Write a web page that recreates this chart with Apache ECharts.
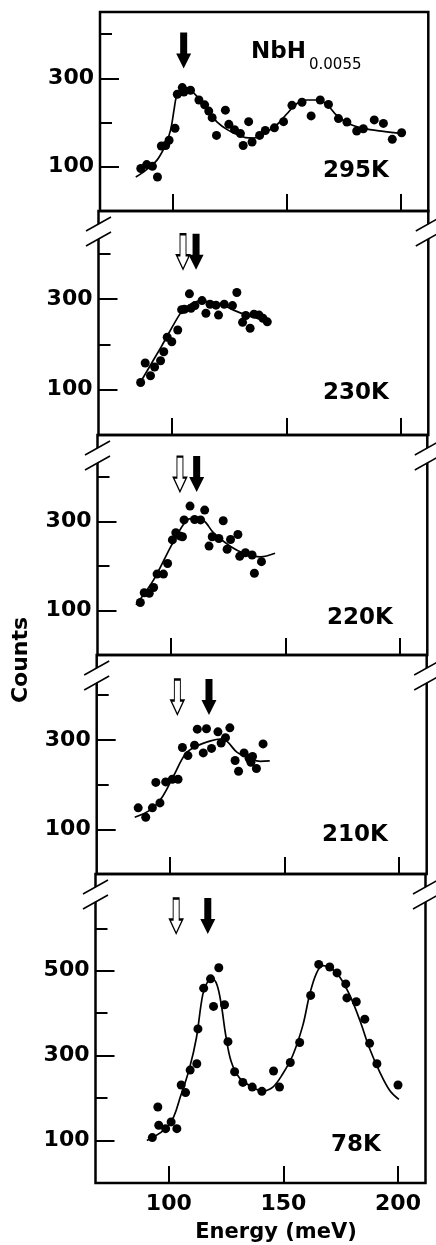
<!DOCTYPE html>
<html><head><meta charset="utf-8">
<script src="https://cdn.jsdelivr.net/npm/echarts@6/dist/echarts.min.js"></script>
<style>html,body{margin:0;padding:0;background:#fff}#c{width:436px;height:1245px}</style>
</head><body><div id="c"></div>
<script>
// ---------------- data ----------------
const temperatures = ['295K', '230K', '220K', '210K', '78K'];
const xRange = [68, 212];
const xTickLabels = [100, 150, 200];
const yMaxes = [450, 495, 495, 490, 728];
const yTickTops = [400, 400, 400, 400, 600];
const yTickLabels = [[100, 300], [100, 300], [100, 300], [100, 300], [100, 300, 500]];

const points295 = [[85.9,96],[88.5,105],[91.0,101],[93.2,77],[94.9,147],[96.8,148],[98.3,160],[100.9,187],[101.9,264],[104.1,279],[104.8,269],[107.7,273],[111.4,251],[113.9,240],[115.7,226],[117.2,211],[119.1,171],[123,228],[124.5,196],[127,184],[129.6,175],[130.8,148],[133.2,202],[134.7,156],[138,171],[140.5,182],[144.5,188],[148.5,202],[152.2,239],[156.6,246],[160.6,215],[164.6,251],[168.2,241],[172.6,209],[176.3,201],[180.6,181],[183.5,186],[188.3,206],[192.3,198],[196.2,162],[200.3,177]];
const curve295 = [[83.7,77],[88,92],[93,115],[96.8,150],[99,184],[100.5,230],[101.5,258],[103.4,274],[105.5,279],[107.7,274],[110.7,258],[115,228],[119.4,201],[123.8,184],[128.2,173],[131.8,166],[135.4,165],[139.8,175],[145.6,195],[150,220],[154.4,243],[158.8,251],[163.1,251],[167.5,241],[171.9,216],[177.7,196],[183.5,187],[192.3,180],[200.3,175]];

const points230 = [[86.4,116],[88.4,159],[90.7,131],[92.5,150],[95.1,164],[96.5,184],[98,216],[100,206],[102.6,232],[104.3,277],[105.5,278],[107.7,312],[108.4,280],[110.1,286],[113.2,297],[114.9,269],[116.7,289],[119.3,287],[120.4,265],[122.9,289],[126.5,286],[128.4,315],[130.9,249],[132.3,264],[134.2,236],[135.9,267],[138.1,265],[139.8,258],[141.7,250]];
const curve230 = [[86.7,120],[95.5,196],[104,271],[107,285],[112,296],[117,294],[122,288],[127,276],[133,264],[138,257],[142,251]];

const points220 = [[86.7,118],[88.4,140],[90.6,139],[92.5,152],[94,182],[96.8,182],[98.6,206],[100.7,259],[102.2,275],[103.9,268],[105.1,266],[105.8,304],[108.4,335],[110.4,305],[113,304],[114.8,326],[116.7,245],[118.1,266],[121,262],[122.9,302],[124.6,238],[126.1,260],[129.3,271],[130.1,222],[132.6,230],[135.5,225],[136.5,184],[139.6,210]];
const curve220 = [[84.8,113],[92.5,169],[100,244],[105.8,296],[108.7,307],[113.8,304],[118.8,274],[126.1,244],[131.9,229],[139.1,221],[145.5,229]];

const points210 = [[86.1,148],[89.4,127],[92.3,148],[95.6,159],[93.8,205],[98.1,206],[101,212],[103.5,212],[105.4,283],[107.8,265],[110.7,288],[111.9,324],[114.5,271],[115.9,325],[118.1,281],[120.9,318],[122.3,293],[124.2,305],[126.1,327],[128.4,254],[129.9,230],[132.3,271],[134.5,259],[136,263],[135.3,250],[137.7,236],[140.6,291]];
const curve210 = [[84.6,127],[91.6,144],[96.7,173],[101.7,221],[106.8,269],[111.9,287],[117.7,298],[122.1,302],[125,296],[129.3,272],[135.1,258],[139.4,252],[143.5,253]];

const points78 = [[92.8,107],[95.2,179],[95.6,136],[98.6,128],[101,144],[103.5,128],[105.4,231],[107.3,213],[109.3,266],[112.2,281],[112.7,363],[115.2,459],[118.2,481],[119.5,416],[121.8,507],[124.3,420],[125.8,333],[128.7,262],[132.3,237],[136.4,226],[140.6,216],[145.7,264],[148.3,226],[153,284],[157.1,331],[161.9,442],[165.4,515],[170.2,509],[173.4,495],[177.2,469],[177.7,436],[181.8,427],[185.5,386],[187.6,329],[190.8,281],[200,231]];
const curve78 = [[90.4,100],[100.3,138],[105.4,209],[109,270],[112,341],[114.8,444],[117,475],[119,481],[121,467],[122.9,420],[124.8,349],[127.2,286],[130.9,247],[136.7,225],[140.8,217],[145.4,226],[149.8,258],[154.1,301],[158.5,372],[161.4,443],[164.4,494],[167.2,512],[170.9,506],[174.5,486],[178.9,443],[183.3,384],[187.6,317],[192,262],[196.4,218],[200.4,197]];

const filledArrows = [[104.7,363],[110.6,405],[111.3,407],[117,396],[117,629]];
const openArrows = [null,[104.9,405],[104,407],[103.2,396],[103.2,629]];

const allPoints = [points295, points230, points220, points210, points78];
const allCurves = [curve295, curve230, curve220, curve210, curve78];

// ---------------- layout ----------------
const lefts = [100, 98.5, 97.5, 96.7, 95.5];
const rights = [428.3, 428.3, 427.3, 426.7, 425.5];
const tops = [12, 211, 435, 655, 874];
const bottoms = [211, 435, 655, 874, 1183];
const FONT = '"DejaVu Sans", "Liberation Sans", sans-serif';

const grid = [], xAxis = [], yAxis = [], series = [], graphic = [];
const FILLED = 'path://M4,0L11,0L11,21L15,21L7.5,36L0,21L4,21Z';
const OPEN = 'path://M3.5,0L9.5,0L9.5,21L13,21L6.5,35L0,21L3.5,21Z';

for (let i = 0; i < 5; i++) {
  const L = lefts[i], R = rights[i], T = tops[i], B = bottoms[i];
  const W = R - L, H = B - T;
  const px = e => L + (e - xRange[0]) / (xRange[1] - xRange[0]) * W;
  const py = v => B - v / yMaxes[i] * H;
  const gData = grid.length;
  grid.push({left: L, top: T, width: W, height: H, show: true, borderColor: '#000', borderWidth: 2.5, backgroundColor: 'transparent'});
  const tl = px(xTickLabels[0]), tr = px(xTickLabels[xTickLabels.length - 1]), tt = py(yTickTops[i]);
  const gTick = grid.length;
  grid.push({left: tl, top: tt, width: tr - tl, height: B - tt, show: false});

  const xd = xAxis.length;
  xAxis.push({type: 'value', gridIndex: gData, position: 'bottom', min: xRange[0], max: xRange[1], show: false});
  xAxis.push({type: 'value', gridIndex: gTick, position: 'bottom', min: xTickLabels[0], max: xTickLabels[xTickLabels.length - 1],
    interval: xTickLabels[1] - xTickLabels[0],
    axisLine: {show: false, onZero: false},
    axisTick: {show: true, inside: true, length: 17, lineStyle: {color: '#000', width: 2}},
    splitLine: {show: false},
    axisLabel: {show: i === 4, margin: 10, color: '#000', fontFamily: FONT, fontWeight: 'bold', fontSize: 22,
      formatter: v => xTickLabels.includes(v) ? String(v) : ''}
  });
  const yd = yAxis.length;
  yAxis.push({type: 'value', gridIndex: gData, position: 'left', min: 0, max: yMaxes[i], show: false});
  yAxis.push({type: 'value', gridIndex: gTick, position: 'left', min: 0, max: yTickTops[i], interval: 200, offset: tl - L,
    axisLine: {show: false, onZero: false},
    axisTick: {show: true, inside: true, length: 12, lineStyle: {color: '#000', width: 2}},
    minorTick: {show: true, splitNumber: 2, length: 19, lineStyle: {color: '#000', width: 2}},
    axisLabel: {show: false}, splitLine: {show: false}, minorSplitLine: {show: false}
  });
  const labs = yTickLabels[i];
  yAxis.push({type: 'value', gridIndex: gTick, position: 'left', min: 0, max: yTickTops[i], interval: 100, offset: tl - L,
    axisLine: {show: false, onZero: false}, axisTick: {show: false}, splitLine: {show: false},
    axisLabel: {show: true, margin: 6, color: '#000', fontFamily: FONT, fontWeight: 'bold', fontSize: 22,
      formatter: v => labs.includes(v) ? String(v) : ''}
  });

  const mp = [{coord: filledArrows[i], symbol: FILLED, symbolSize: [15, 36], itemStyle: {color: '#000', opacity: 1}}];
  if (openArrows[i]) mp.push({coord: openArrows[i], symbol: OPEN, symbolSize: [13, 35], itemStyle: {color: '#fff', borderColor: '#000', borderWidth: 1.5, opacity: 1}});

  series.push({type: 'scatter', xAxisIndex: xd, yAxisIndex: yd, data: allPoints[i], symbol: 'circle', symbolSize: 9,
    itemStyle: {color: '#000', opacity: 1}, silent: true, z: 3,
    markPoint: {data: mp, label: {show: false}, silent: true, animation: false}});
  series.push({type: 'line', xAxisIndex: xd, yAxisIndex: yd, data: allCurves[i], smooth: 0.35, showSymbol: false,
    lineStyle: {color: '#000', width: 1.7}, silent: true, z: 2});

  // temperature label
  const tx = [356, 356, 360, 355, 356][i];
  const ty = [171, 393, 618, 835, 1145][i];
  graphic.push({type: 'text', x: tx, y: ty, z: 100, style: {text: temperatures[i], font: 'bold 23px ' + FONT, fill: '#000',
    align: 'center', verticalAlign: 'middle', textAlign: 'center', textVerticalAlign: 'middle'}});

  // axis break marks
  if (i > 0) {
    const c = T + 20.5;
    [L, R].forEach(x => {
      graphic.push({type: 'polygon', z: 100, shape: {points: [[x - 6, c - 3.7], [x + 6, c - 10.4], [x + 6, c + 3.7], [x - 6, c + 10.4]]}, style: {fill: '#fff'}});
      graphic.push({type: 'line', z: 101, shape: {x1: x - 12.5, y1: c - 0.5, x2: x + 12.5, y2: c - 14.5}, style: {stroke: '#000', lineWidth: 1.5}});
      graphic.push({type: 'line', z: 101, shape: {x1: x - 12.5, y1: c + 14.5, x2: x + 12.5, y2: c + 0.5}, style: {stroke: '#000', lineWidth: 1.5}});
    });
  }
}

graphic.push({type: 'text', x: 251, y: 52, z: 100, style: {text: 'NbH', font: 'bold 23px ' + FONT, fill: '#000', align: 'left', verticalAlign: 'middle', textAlign: 'left', textVerticalAlign: 'middle'}});
graphic.push({type: 'text', x: 309, y: 65, z: 100, style: {text: '0.0055', font: '15px ' + FONT, fill: '#000', align: 'left', verticalAlign: 'middle', textAlign: 'left', textVerticalAlign: 'middle'}});
graphic.push({type: 'text', x: 21, y: 660, rotation: Math.PI / 2, z: 100, style: {text: 'Counts', font: 'bold 22px ' + FONT, fill: '#000', align: 'center', verticalAlign: 'middle', textAlign: 'center', textVerticalAlign: 'middle'}});
graphic.push({type: 'text', x: 276, y: 1233, z: 100, style: {text: 'Energy (meV)', font: 'bold 21px ' + FONT, fill: '#000', align: 'center', verticalAlign: 'middle', textAlign: 'center', textVerticalAlign: 'middle'}});

const chart = echarts.init(document.getElementById('c'), null, {renderer: 'canvas'});
chart.setOption({animation: false, backgroundColor: '#fff', grid, xAxis, yAxis, series, graphic});
</script></body></html>
